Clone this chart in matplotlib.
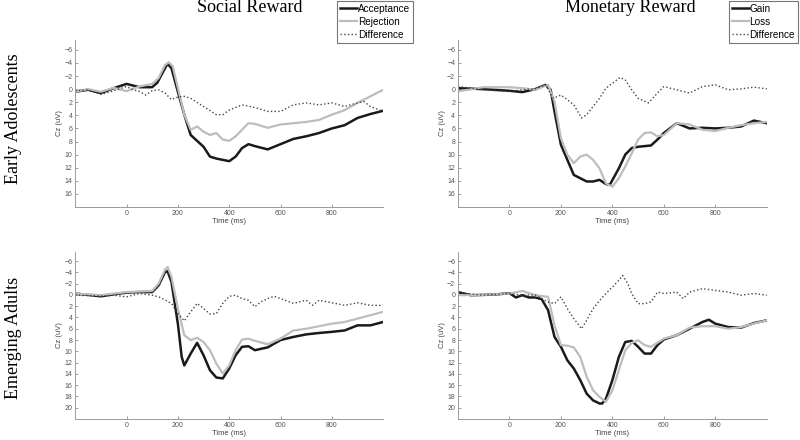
import matplotlib
matplotlib.use("Agg")
import matplotlib.pyplot as plt

# ---- data (time in ms, amplitude in uV) ----
# Early adolescents, social reward
ea_acc_t = [-200, -150, -100, -50, 0, 50, 100, 120, 150, 160, 175, 200, 225, 250, 275, 300, 325, 350, 375, 400,
            425, 450, 475, 500, 550, 600, 650, 700, 750, 800, 850, 900, 950, 1000]
ea_acc_v = [0.4, 0.1, 0.6, -0.15, -0.8, -0.3, -0.3, -1.0, -3.2, -3.9, -3.2, 0.4, 3.9, 7.0, 7.9, 8.8, 10.3, 10.6, 10.8, 11.0,
            10.3, 9.0, 8.4, 8.7, 9.2, 8.4, 7.6, 7.2, 6.7, 6.0, 5.5, 4.4, 3.8, 3.3]
ea_rej_t = [-200, -150, -100, -50, 0, 50, 100, 125, 150, 165, 180, 200, 225, 250, 275, 300, 325, 350, 375, 400,
            425, 450, 475, 500, 550, 600, 650, 700, 750, 800, 850, 900, 950, 1000]
ea_rej_v = [0.4, 0.0, 0.4, -0.2, 0.3, -0.4, -0.8, -1.7, -3.7, -4.1, -3.5, -0.2, 3.9, 6.2, 5.7, 6.5, 7.0, 6.7, 7.7, 7.9,
            7.2, 6.2, 5.2, 5.3, 5.9, 5.4, 5.2, 5.0, 4.7, 3.9, 3.2, 2.1, 1.1, 0.1]
ea_sdif_t = [-200, -150, -100, -50, 0, 25, 50, 75, 100, 125, 150, 175, 200, 225, 250, 300, 350, 375, 400,
             450, 500, 550, 600, 650, 700, 750, 800, 850, 900, 925, 950, 1000]
ea_sdif_v = [0.25, 0.1, 0.8, 0.25, -0.4, 0.1, 0.35, 0.9, 0.25, 0.1, 0.6, 1.6, 1.2, 1.1, 1.4, 2.65, 3.9, 3.9, 3.2,
             2.4, 2.8, 3.4, 3.4, 2.4, 2.1, 2.4, 2.1, 2.65, 2.1, 1.9, 2.65, 3.4]

# Early adolescents, monetary reward
ea_gain_t = [-200, -100, 0, 50, 100, 140, 160, 175, 200, 225, 250, 275, 300, 325, 350, 375, 390,
             425, 450, 475, 500, 550, 575, 600, 650, 700, 750, 800, 850, 900, 950, 1000]
ea_gain_v = [-0.15, 0.0, 0.25, 0.45, 0.0, -0.65, 0.1, 3.4, 8.5, 10.8, 13.1, 13.6, 14.1, 14.1, 13.85, 14.5, 14.6,
             12.1, 10.0, 9.0, 8.8, 8.6, 7.7, 6.7, 5.2, 6.0, 5.9, 6.0, 5.9, 5.7, 4.8, 5.2]
ea_loss_t = [-200, -100, 0, 50, 100, 150, 175, 200, 225, 250, 275, 300, 325, 350, 375, 400, 425, 450, 475,
             500, 525, 550, 575, 600, 650, 700, 750, 800, 850, 900, 950, 1000]
ea_loss_v = [0.35, -0.3, -0.3, -0.15, 0.1, -0.65, 1.9, 7.5, 10.0, 11.3, 10.3, 10.0, 10.8, 12.1, 14.4, 14.9, 13.6, 11.8, 9.8,
             7.7, 6.7, 6.6, 7.2, 7.0, 5.2, 5.4, 6.2, 6.4, 5.9, 5.5, 5.2, 5.0]
ea_mdif_t = [-200, -100, 0, 50, 100, 140, 170, 200, 225, 250, 280, 300, 325, 350, 375, 400, 430, 450, 475,
             500, 540, 575, 600, 650, 700, 750, 800, 850, 900, 950, 1000]
ea_mdif_v = [-0.4, 0.1, 0.35, 0.1, -0.05, -0.65, 1.4, 0.9, 1.6, 2.4, 4.4, 3.9, 2.65, 1.4, -0.15, -0.9, -1.8, -1.4, 0.1,
             1.4, 2.1, 0.6, -0.4, 0.1, 0.6, -0.4, -0.65, 0.1, -0.05, -0.3, -0.05]

# Emerging adults, social reward
ad_acc_t = [-200, -150, -100, -50, 0, 50, 100, 125, 150, 160, 175, 200, 215, 225, 250, 275, 300, 325, 350, 375, 400,
            425, 450, 475, 500, 550, 600, 650, 700, 750, 800, 850, 900, 950, 1000]
ad_acc_v = [-0.25, 0.0, 0.25, -0.1, -0.4, -0.5, -0.5, -1.7, -4.05, -4.2, -2.3, 5.1, 11.0, 12.5, 10.4, 8.5, 10.7, 13.35,
            14.65, 14.8, 13.05, 10.7, 9.2, 9.1, 9.8, 9.3, 8.0, 7.45, 7.0, 6.75, 6.55, 6.3, 5.4, 5.4, 4.8]
ad_rej_t = [-200, -100, 0, 100, 125, 150, 160, 175, 200, 225, 250, 275, 300, 325, 350, 375, 400, 425, 450, 475,
            500, 550, 600, 650, 700, 750, 800, 850, 900, 950, 1000]
ad_rej_v = [-0.25, 0.05, -0.5, -0.7, -2.0, -4.5, -4.95, -3.2, 2.4, 7.15, 8.0, 7.6, 8.35, 9.8, 12.2, 13.95, 12.5, 9.8,
            7.9, 7.75, 8.15, 8.75, 7.75, 6.3, 6.0, 5.55, 5.1, 4.8, 4.2, 3.6, 3.0]
ad_sdif_t = [-200, -100, -50, 0, 50, 100, 125, 150, 175, 200, 225, 250, 275, 300, 325, 350, 375, 400, 425, 450, 475,
             500, 525, 550, 575, 600, 650, 700, 725, 750, 800, 850, 900, 950, 1000]
ad_sdif_v = [0.05, 0.2, 0.05, 0.35, -0.25, 0.05, 0.35, 0.9, 1.5, 3.3, 4.6, 3.0, 1.5, 2.4, 3.4, 3.3, 1.5, 0.25, 0.05,
             0.65, 0.95, 2.1, 1.2, 0.65, 0.25, 0.65, 1.5, 0.95, 1.85, 0.95, 1.4, 1.85, 1.4, 1.85, 1.85]

# Emerging adults, monetary reward
ad_gain_t = [-200, -150, -100, -50, 0, 25, 50, 75, 100, 125, 150, 175, 200, 225, 250, 275, 300, 325, 350, 360, 375,
             400, 425, 450, 475, 500, 525, 550, 575, 600, 650, 700, 750, 775, 800, 850, 900, 950, 1000]
ad_gain_v = [-0.5, 0.05, 0.0, -0.1, -0.3, 0.45, 0.05, 0.45, 0.45, 0.75, 2.7, 7.45, 9.2, 11.6, 13.05, 15.1, 17.5, 18.7,
             19.25, 19.25, 18.4, 15.1, 11.0, 8.35, 8.15, 9.2, 10.4, 10.4, 8.9, 7.9, 7.15, 6.0, 4.8, 4.4, 5.1, 5.7,
             5.8, 5.0, 4.5]
ad_loss_t = [-200, -100, 0, 50, 100, 150, 175, 200, 225, 250, 275, 300, 325, 350, 375, 400, 425, 450, 475, 500,
             525, 550, 600, 650, 700, 750, 800, 850, 900, 950, 1000]
ad_loss_v = [0.05, 0.0, -0.25, -0.7, 0.05, 0.35, 5.4, 8.9, 9.0, 9.3, 11.0, 14.5, 16.9, 18.1, 18.95, 16.9, 13.35, 9.8,
             8.5, 8.05, 8.9, 9.2, 7.75, 7.15, 5.8, 5.55, 5.55, 6.0, 5.7, 5.1, 4.5]
ad_mdif_t = [-200, -100, 0, 50, 100, 150, 175, 200, 225, 250, 280, 300, 325, 350, 375, 400, 425, 440, 460, 475,
             500, 525, 550, 575, 600, 650, 675, 700, 750, 800, 850, 900, 950, 1000]
ad_mdif_v = [-0.35, 0.05, -0.25, 0.05, 0.0, 1.25, 1.55, 0.35, 2.45, 4.2, 6.0, 4.5, 2.45, 1.0, -0.25, -1.4, -2.6, -3.45,
             -2.0, -0.25, 1.55, 1.55, 1.25, -0.5, -0.25, -0.5, 0.65, -0.5, -1.1, -0.8, -0.5, 0.05, -0.25, 0.05]

x_ticks = [0, 200, 400, 600, 800]
top_yticks = list(range(-6, 17, 2))
bot_yticks = list(range(-6, 21, 2))

SERIF = ["Liberation Serif", "DejaVu Serif"]
SANS = ["Liberation Sans", "DejaVu Sans"]
plt.rcParams["font.family"] = SANS

fig = plt.figure(figsize=(8, 4.4), dpi=100)

BLACK = "#1a1a1a"
GRAY = "#bdbdbd"
DOT = "#444444"


def panel(rect, series, yticks, ylim):
    ax = fig.add_axes(rect)
    for t, v, c, lw, ls, lab in series:
        ax.plot(t, v, color=c, lw=lw, ls=ls, label=lab)
    ax.set_xlim(-200, 1000)
    ax.set_ylim(ylim[1], ylim[0])
    ax.set_xticks(x_ticks)
    ax.set_yticks(yticks)
    for s in ("top", "right"):
        ax.spines[s].set_visible(False)
    for s in ("left", "bottom"):
        ax.spines[s].set_color("#9a9a9a")
        ax.spines[s].set_linewidth(0.7)
    ax.tick_params(direction="in", length=2, width=0.5, color="#777777",
                   labelsize=5, labelcolor="#555555", pad=2)
    ax.set_xlabel("Time (ms)", fontsize=5.5, color="#444444", labelpad=1)
    ax.set_ylabel("Cz (uV)", fontsize=5.5, color="#444444", labelpad=1)
    return ax


def legend(ax, anchor):
    lg = ax.legend(loc="upper right", bbox_to_anchor=anchor, bbox_transform=fig.transFigure,
                   fontsize=7.2, frameon=True, fancybox=False, handlelength=1.7,
                   handletextpad=0.1, labelspacing=0.3, borderpad=0.3, borderaxespad=0)
    lg.get_frame().set_edgecolor("#555555")
    lg.get_frame().set_linewidth(0.8)


ax1 = panel([0.094, 0.5295, 0.385, 0.3795],
            [(ea_acc_t, ea_acc_v, BLACK, 1.8, "-", "Acceptance"),
             (ea_rej_t, ea_rej_v, GRAY, 1.6, "-", "Rejection"),
             (ea_sdif_t, ea_sdif_v, DOT, 1.0, ":", "Difference")],
            top_yticks, (-7.5, 18))
legend(ax1, (0.516, 0.998))

ax2 = panel([0.5725, 0.5295, 0.386, 0.3795],
            [(ea_gain_t, ea_gain_v, BLACK, 1.8, "-", "Gain"),
             (ea_loss_t, ea_loss_v, GRAY, 1.6, "-", "Loss"),
             (ea_mdif_t, ea_mdif_v, DOT, 1.0, ":", "Difference")],
            top_yticks, (-7.5, 18))
legend(ax2, (0.9975, 0.998))

ax3 = panel([0.094, 0.0477, 0.385, 0.3795],
            [(ad_acc_t, ad_acc_v, BLACK, 1.8, "-", "Acceptance"),
             (ad_rej_t, ad_rej_v, GRAY, 1.6, "-", "Rejection"),
             (ad_sdif_t, ad_sdif_v, DOT, 1.0, ":", "Difference")],
            bot_yticks, (-7.6, 22))

ax4 = panel([0.5725, 0.0477, 0.386, 0.3795],
            [(ad_gain_t, ad_gain_v, BLACK, 1.8, "-", "Gain"),
             (ad_loss_t, ad_loss_v, GRAY, 1.6, "-", "Loss"),
             (ad_mdif_t, ad_mdif_v, DOT, 1.0, ":", "Difference")],
            bot_yticks, (-7.6, 22))

fig.text(0.3125, 0.982, "Social Reward", family=SERIF, fontsize=13, ha="center", va="center")
fig.text(0.7875, 0.982, "Monetary Reward", family=SERIF, fontsize=13, ha="center", va="center")
fig.text(0.017, 0.7295, "Early Adolescents", family=SERIF, fontsize=13, rotation=90, ha="center", va="center")
fig.text(0.017, 0.2318, "Emerging Adults", family=SERIF, fontsize=13, rotation=90, ha="center", va="center")

fig.savefig("out.png", dpi=100)
